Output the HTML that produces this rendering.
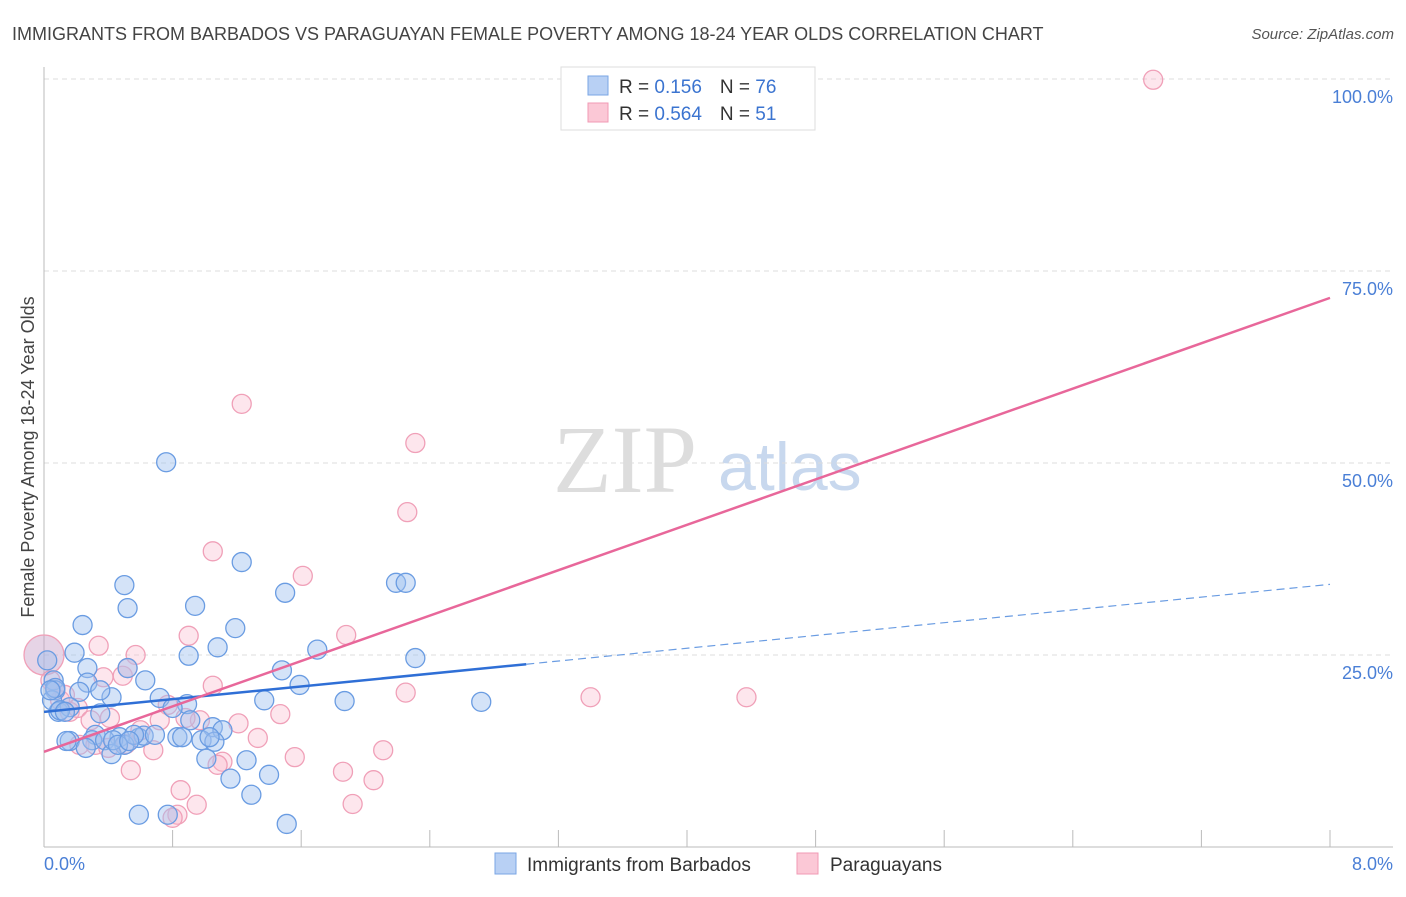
<!DOCTYPE html>
<html><head><meta charset="utf-8"><style>
body{margin:0;background:#fff;font-family:"Liberation Sans",sans-serif;}
svg text{font-family:"Liberation Sans",sans-serif;}
</style></head><body>
<svg id="chart" width="1406" height="892" xmlns="http://www.w3.org/2000/svg">
<text x="12" y="40" font-size="18" fill="#444">IMMIGRANTS FROM BARBADOS VS PARAGUAYAN FEMALE POVERTY AMONG 18-24 YEAR OLDS CORRELATION CHART</text>
<text x="1394" y="39" font-size="15" fill="#555" text-anchor="end" font-style="italic">Source: ZipAtlas.com</text>
<g>
<text x="553" y="492" font-size="96" fill="#ddd" font-family="Liberation Serif" style="font-family:'Liberation Serif',serif">ZIP</text>
<text x="718" y="490" font-size="68" fill="#c8d8ee">atlas</text>
</g>
<g id="grid"></g><g id="axes"></g><g id="pts"></g><g id="lines"></g>
<text transform="translate(34,457) rotate(-90)" font-size="18" fill="#444" text-anchor="middle">Female Poverty Among 18-24 Year Olds</text>
<g>
<rect x="561" y="67" width="254" height="63" fill="#fff" stroke="#ddd"/>
<rect x="588" y="76" width="20" height="19" fill="#b8d0f4" stroke="#7aa6e4"/>
<rect x="588" y="103" width="20" height="19" fill="#fbc8d6" stroke="#f09ab4"/>
<text x="619" y="93" font-size="19" fill="#333">R = <tspan fill="#3b74d0"> 0.156</tspan><tspan dx="18">N = </tspan><tspan fill="#3b74d0">76</tspan></text>
<text x="619" y="120" font-size="19" fill="#333">R = <tspan fill="#3b74d0">0.564</tspan><tspan dx="18">N = </tspan><tspan fill="#3b74d0"> 51</tspan></text>
</g>
<g>
<rect x="495" y="853" width="21" height="21" fill="#b8d0f4" stroke="#7aa6e4"/>
<text x="527" y="871" font-size="19" fill="#333">Immigrants from Barbados</text>
<rect x="797" y="853" width="21" height="21" fill="#fbc8d6" stroke="#f09ab4"/>
<text x="830" y="871" font-size="19" fill="#333">Paraguayans</text>
</g>
</svg>
<script>
const yTicks=[25,50,75,100];
const yTickLabels=["25.0%","50.0%","75.0%","100.0%"];
const blueX=[0.76,1.23,0.50,1.50,2.19,2.25,0.52,0.94,0.24,1.19,1.08,1.70,2.31,0.90,0.19,0.27,0.52,0.06,0.27,0.63,1.59,1.48,0.07,0.22,0.42,0.72,0.89,1.37,1.87,2.72,0.09,0.35,0.16,0.91,1.05,1.11,0.32,0.47,0.59,0.16,0.14,0.30,0.38,0.50,0.62,0.83,0.86,0.98,1.06,0.26,0.42,1.01,1.26,1.16,1.40,1.29,0.59,0.77,1.51,0.05,0.10,0.13,0.07,0.04,0.56,0.43,0.69,0.46,0.53,0.80,1.03,0.35,0.02];
const blueY=[50.1,37.1,34.1,33.1,34.4,34.4,31.1,31.4,28.9,28.5,26.0,25.7,24.6,24.9,25.3,23.3,23.3,21.7,21.4,21.7,21.1,23.0,20.4,20.2,19.5,19.4,18.6,19.1,19.0,18.9,17.6,17.4,18.2,16.5,15.6,15.2,14.6,14.3,14.2,13.8,13.8,13.9,13.9,13.3,14.5,14.3,14.3,13.9,13.7,12.9,12.1,11.5,11.3,8.9,9.4,6.8,4.2,4.2,3.0,19.1,17.8,17.6,20.7,20.4,14.6,13.9,14.6,13.3,13.8,18.1,14.3,20.4,24.3];
const pinkX=[6.90,1.23,2.31,2.26,1.05,1.61,1.88,0.90,0.34,0.57,0.37,0.49,1.05,2.25,3.40,4.37,0.52,0.77,0.41,0.72,1.21,1.47,0.97,0.88,1.33,0.22,0.51,0.68,1.56,2.11,1.86,2.05,1.11,1.08,0.54,0.85,0.95,1.92,0.83,0.80,0.04,0.10,0.16,0.21,0.13,0.29,0.60,0.32,0.40,0.07];
const pinkY=[99.9,57.7,52.6,43.6,38.5,35.3,27.6,27.5,26.2,25.0,22.1,22.3,21.0,20.1,19.5,19.5,23.3,18.5,16.8,16.5,16.1,17.3,16.5,16.8,14.2,13.3,13.4,12.6,11.7,12.6,9.8,8.7,11.1,10.7,10.0,7.4,5.5,5.6,4.2,3.8,21.7,19.1,17.6,18.1,19.8,16.5,15.2,13.3,12.9,20.7];
const bigPink=[0,25];
const blueTrend=[0,17.6,3.0,23.8,8.0,34.2];
const pinkTrend=[0,12.4,8.0,71.5];
const NS="http://www.w3.org/2000/svg";
const sx=v=>44+v*160.75, sy=v=>847-v*7.68;
function mk(tag,attrs,parent){const e=document.createElementNS(NS,tag);for(const k in attrs)e.setAttribute(k,attrs[k]);document.getElementById(parent).appendChild(e);return e;}
yTicks.forEach((t,i)=>{
 const g=mk('line',{x1:44,x2:1393,y1:sy(t),y2:sy(t),stroke:'#ddd','stroke-dasharray':'5,4'},'grid');
 
 
 const l=mk('text',{x:1393,y:sy(t)+24,'font-size':18,fill:'#4a7fd6','text-anchor':'end'},'grid');
 l.textContent=yTickLabels[i];
 
 
});
const ya=mk('line',{x1:44,x2:44,y1:67,y2:847,stroke:'#bbb'},'axes');


const xa=mk('line',{x1:44,x2:1393,y1:847,y2:847,stroke:'#bbb'},'axes');


for(let i=1;i<=10;i++){const t=mk('line',{x1:sx(i*0.8),x2:sx(i*0.8),y1:830,y2:847,stroke:'#bbb'},'axes');
 
 }
const x0=mk('text',{x:44,y:870,'font-size':18,fill:'#4a7fd6'},'axes');x0.textContent='0.0%';


const x8=mk('text',{x:1393,y:870,'font-size':18,fill:'#4a7fd6','text-anchor':'end'},'axes');x8.textContent='8.0%';


pinkX.forEach((x,i)=>{const c=mk('circle',{cx:sx(x),cy:sy(pinkY[i]),r:9.5,fill:'rgba(248,182,202,0.35)',stroke:'#f0a0b8','stroke-width':1.3},'pts');
 
 });
const bp=mk('circle',{cx:sx(bigPink[0]),cy:sy(bigPink[1]),r:20,fill:'rgba(200,160,200,0.45)',stroke:'#f0a0b8','stroke-width':1.3},'pts');


blueX.forEach((x,i)=>{const c=mk('circle',{cx:sx(x),cy:sy(blueY[i]),r:9.5,fill:'rgba(160,194,240,0.45)',stroke:'#6a9ce2','stroke-width':1.3},'pts');
 
 });
const b1=mk('line',{x1:sx(blueTrend[0]),y1:sy(blueTrend[1]),x2:sx(blueTrend[2]),y2:sy(blueTrend[3]),stroke:'#2f6fd6','stroke-width':2.5},'lines');


const b2=mk('line',{x1:sx(blueTrend[2]),y1:sy(blueTrend[3]),x2:sx(blueTrend[4]),y2:sy(blueTrend[5]),stroke:'#6a9ce2','stroke-width':1.2,'stroke-dasharray':'8,5'},'lines');


const p1=mk('line',{x1:sx(pinkTrend[0]),y1:sy(pinkTrend[1]),x2:sx(pinkTrend[2]),y2:sy(pinkTrend[3]),stroke:'#e8679a','stroke-width':2.5},'lines');


</script>
</body></html>
